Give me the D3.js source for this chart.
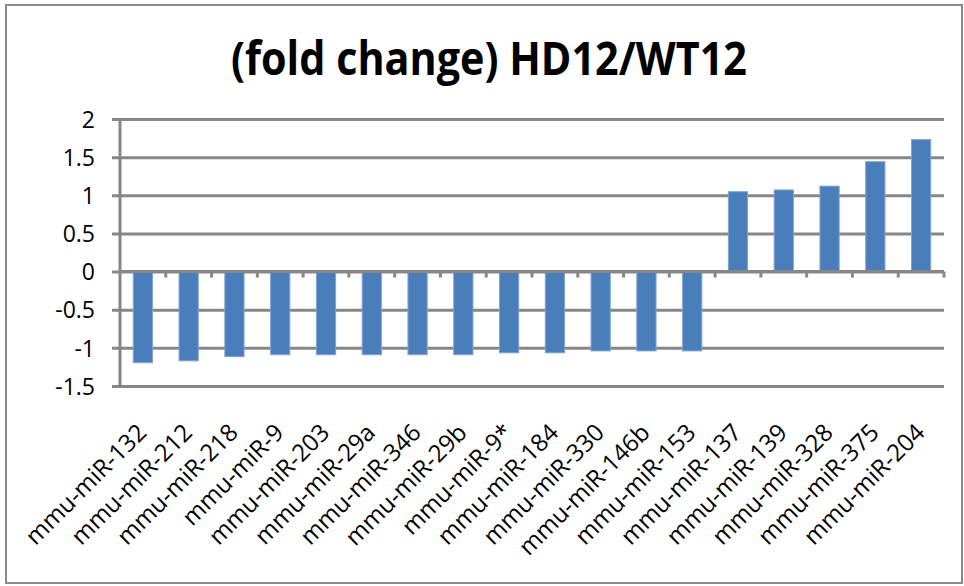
<!DOCTYPE html>
<html>
<head>
<meta charset="utf-8">
<script src="https://cdn.jsdelivr.net/npm/d3@7"></script>
<style>
  html, body { margin: 0; padding: 0; background: #fff; }
  svg { display: block; }
</style>
</head>
<body>
<svg id="chart" width="964" height="586"></svg>
<script>
const categories = ["mmu-miR-132","mmu-miR-212","mmu-miR-218","mmu-miR-9","mmu-miR-203","mmu-miR-29a","mmu-miR-346","mmu-miR-29b","mmu-miR-9*","mmu-miR-184","mmu-miR-330","mmu-miR-146b","mmu-miR-153","mmu-miR-137","mmu-miR-139","mmu-miR-328","mmu-miR-375","mmu-miR-204"];
const values = [-1.195,-1.17,-1.115,-1.09,-1.09,-1.09,-1.09,-1.09,-1.065,-1.065,-1.04,-1.04,-1.04,1.047,1.07,1.12,1.44,1.73];
const yTicks = [2,1.5,1,0.5,0,-0.5,-1,-1.5];
const yTickLabels = ["2","1.5","1","0.5","0","-0.5","-1","-1.5"];
const title = "(fold change) HD12/WT12";

const svg = d3.select("#chart");
const plot = {left: 120, right: 944, top: 119, bottom: 386};
const gridColor = "#878787";

// frame
svg.append("rect").attr("x", 6).attr("y", 5).attr("width", 956).attr("height", 578)
  .attr("fill", "#fff").attr("stroke", "#8a8a8a").attr("stroke-width", 2);

const x = d3.scaleBand().domain(categories).range([plot.left, plot.right]).paddingInner(0.58).paddingOuter(0.29);
const y = d3.scaleLinear().domain([-1.5, 2]).range([plot.bottom, plot.top]);

// title
svg.append("text").attr("x", 489).attr("y", 75).attr("text-anchor", "middle")
  .attr("font-family", "'Open Sans', sans-serif").attr("font-weight", "bold")
  .attr("font-size", 46).attr("textLength", 516).attr("lengthAdjust", "spacingAndGlyphs")
  .attr("fill", "#000").text(title);

// gridlines with left tick
const yAxis = d3.axisLeft(y).tickValues(yTicks)
  .tickSize(-(plot.right - plot.left + 8)).tickSizeOuter(0)
  .tickFormat((d, i) => yTickLabels[i]);
const gy = svg.append("g").attr("transform", `translate(${plot.left - 8},0)`).call(yAxis);
gy.select(".domain").remove();
gy.selectAll(".tick line").attr("stroke", gridColor).attr("stroke-width", 3)
  .attr("x1", 0).attr("x2", plot.right - plot.left + 8);
gy.selectAll(".tick text").attr("x", -17).attr("dy", "0.36em")
  .attr("font-family", "'Open Sans', sans-serif").attr("font-size", 23).attr("fill", "#000");

// y axis line
svg.append("line").attr("x1", plot.left).attr("x2", plot.left).attr("y1", plot.top).attr("y2", plot.bottom)
  .attr("stroke", gridColor).attr("stroke-width", 3);

// bars
svg.append("g").selectAll("rect").data(values).join("rect")
  .attr("x", (d, i) => x(categories[i]))
  .attr("width", x.bandwidth())
  .attr("y", d => y(Math.max(0, d)))
  .attr("height", d => Math.abs(y(d) - y(0)))
  .attr("fill", "#4a7ebb").attr("stroke", "#7ea4d4").attr("stroke-width", 1);

// category axis at zero with tick marks at boundaries
const step = x.step();
const boundaries = d3.range(categories.length + 1).map(i => plot.left + i * step);
svg.append("line").attr("x1", plot.left).attr("x2", plot.right).attr("y1", y(0)).attr("y2", y(0))
  .attr("stroke", gridColor).attr("stroke-width", 3);
svg.append("g").selectAll("line").data(boundaries.slice(1)).join("line")
  .attr("x1", d => d).attr("x2", d => d).attr("y1", y(0)).attr("y2", y(0) + 6)
  .attr("stroke", gridColor).attr("stroke-width", 3);

// category labels rotated
svg.append("g").selectAll("text").data(categories).join("text")
  .attr("transform", d => `translate(${x(d) + x.bandwidth() / 2 + 5},${plot.bottom + 48}) rotate(-45)`)
  .attr("text-anchor", "end")
  .attr("font-family", "'Open Sans', sans-serif").attr("font-size", 24).attr("fill", "#000")
  .text(d => d);
</script>
</body>
</html>
